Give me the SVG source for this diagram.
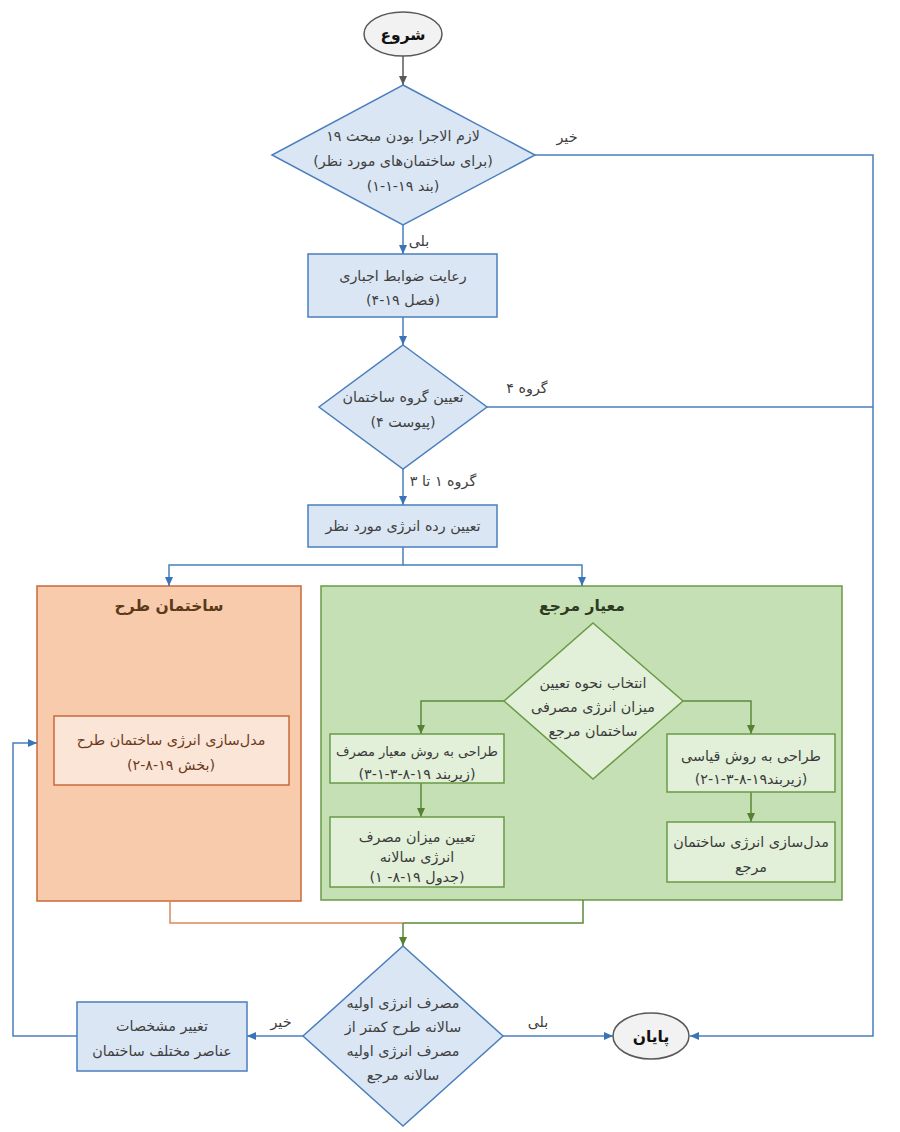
<svg xmlns="http://www.w3.org/2000/svg" width="900" height="1132" viewBox="0 0 900 1132">
<style>
text{font-family:"DejaVu Sans","Noto Sans",sans-serif;font-size:14.3px;text-anchor:middle;direction:rtl;fill:#404040}
.bold{font-weight:bold;fill:#111;font-size:15.5px}
.brown{fill:#6b3a1e}
.gt{fill:#3a3a3a}
.sm{font-size:13px}
.bl{fill:none;stroke:#4a7fbd;stroke-width:1.5}
.gn{fill:none;stroke:#5a8a3a;stroke-width:1.5}
.or{fill:none;stroke:#d98a5a;stroke-width:1.5}
.gy{fill:none;stroke:#595959;stroke-width:1.5}
.bnode{fill:#dae6f4;stroke:#4a7fbd;stroke-width:1.5}
.term{fill:#f2f2f2;stroke:#595959;stroke-width:1.5}
</style>
<defs>
<marker id="ab" markerWidth="10" markerHeight="10" refX="9" refY="5" orient="auto" markerUnits="userSpaceOnUse"><path d="M0,1 L9,5 L0,9 Z" fill="#3a74b8"/></marker>
<marker id="ag" markerWidth="10" markerHeight="10" refX="9" refY="5" orient="auto" markerUnits="userSpaceOnUse"><path d="M0,1 L9,5 L0,9 Z" fill="#548235"/></marker>
<marker id="ay" markerWidth="10" markerHeight="10" refX="9" refY="5" orient="auto" markerUnits="userSpaceOnUse"><path d="M0,1 L9,5 L0,9 Z" fill="#595959"/></marker>
</defs>

<g id="orangeGroup">
<rect x="37" y="586" width="264" height="315" fill="#f8cbad" stroke="#c9693a" stroke-width="1.5"/>
<text x="169" y="611" class="bold" style="fill:#5a3a1a">ساختمان طرح</text>
</g>
<g id="greenGroup">
<rect x="321" y="586" width="521" height="314" fill="#c5e0b4" stroke="#6a9a45" stroke-width="1.5"/>
<text x="582" y="611" class="bold" style="fill:#2f3a22">معیار مرجع</text>
</g>

<g id="connectors">
<path class="gy" d="M403,56 V85" marker-end="url(#ay)"/>
<path class="bl" d="M403,225 V254" marker-end="url(#ab)"/>
<path class="bl" d="M403,317 V345" marker-end="url(#ab)"/>
<path class="bl" d="M403,469 V505" marker-end="url(#ab)"/>
<path class="bl" d="M403,547 V565 H169 V586" marker-end="url(#ab)"/>
<path class="bl" d="M403,565 H582 V586" marker-end="url(#ab)"/>
<path class="bl" d="M535,155 H873 V1036 H690" marker-end="url(#ab)"/>
<path class="bl" d="M487,407 H873"/>
<path class="or" d="M170,901 V923 H403"/>
<path class="gn" d="M583,900 V923 H403"/>
<path class="gn" d="M403,923 V946" marker-end="url(#ag)"/>
<path class="gn" d="M504,701 H421 V734" marker-end="url(#ag)"/>
<path class="gn" d="M683,701 H751 V734" marker-end="url(#ag)"/>
<path class="gn" d="M421,783 V817" marker-end="url(#ag)"/>
<path class="gn" d="M751,792 V822" marker-end="url(#ag)"/>
<path class="bl" d="M303,1036 H247" marker-end="url(#ab)"/>
<path class="bl" d="M503,1036 H613" marker-end="url(#ab)"/>
<path class="bl" d="M77,1036 H13 V743 H37" marker-end="url(#ab)"/>
<text x="567" y="142">خیر</text>
<text x="419" y="246">بلی</text>
<text x="527" y="393">گروه ۴</text>
<text x="443" y="486">گروه ۱ تا ۳</text>
<text x="281" y="1027">خیر</text>
<text x="538" y="1027">بلی</text>
</g>

<g id="start">
<ellipse cx="403" cy="34" rx="39" ry="22" class="term"/>
<text x="403" y="40" class="bold">شروع</text>
</g>

<g id="d1">
<path d="M403,85 L535,155 L403,225 L272,155 Z" class="bnode"/>
<text x="403" y="141">لازم الاجرا بودن مبحث ۱۹</text>
<text x="403" y="166">(برای ساختمان‌های مورد نظر)</text>
<text x="403" y="191">(بند ۱۹-۱-۱)</text>
</g>

<g id="b1">
<rect x="308" y="254" width="189" height="63" class="bnode"/>
<text x="403" y="281">رعایت ضوابط اجباری</text>
<text x="403" y="305">(فصل ۱۹-۴)</text>
</g>

<g id="d2">
<path d="M403,345 L487,407 L403,469 L319,407 Z" class="bnode"/>
<text x="403" y="402">تعیین گروه ساختمان</text>
<text x="403" y="427">(پیوست ۴)</text>
</g>

<g id="b2">
<rect x="308" y="505" width="189" height="42" class="bnode"/>
<text x="403" y="531">تعیین رده انرژی مورد نظر</text>
</g>

<g id="designModel">
<rect x="54" y="716" width="235" height="69" fill="#fbe5d6" stroke="#c9693a" stroke-width="1.5"/>
<text x="171" y="745" class="brown">مدل‌سازی انرژی ساختمان طرح</text>
<text x="171" y="770" class="brown">(بخش ۱۹-۸-۲)</text>
</g>

<g id="gd">
<path d="M593,623 L683,701 L593,779 L504,701 Z" fill="#e2f0d9" stroke="#6a9a45" stroke-width="1.5"/>
<text x="593" y="688" class="gt">انتخاب نحوه تعیین</text>
<text x="593" y="712" class="gt">میزان انرژی مصرفی</text>
<text x="593" y="736" class="gt">ساختمان مرجع</text>
</g>

<g id="gl1">
<rect x="330" y="734" width="174" height="49" fill="#e2f0d9" stroke="#6a9a45" stroke-width="1.5"/>
<text x="417" y="756" class="gt sm">طراحی به روش معیار مصرف</text>
<text x="417" y="779" class="gt">(زیربند ۱۹-۸-۳-۱-۳)</text>
</g>
<g id="gl2">
<rect x="330" y="817" width="174" height="70" fill="#e2f0d9" stroke="#6a9a45" stroke-width="1.5"/>
<text x="417" y="842" class="gt">تعیین میزان مصرف</text>
<text x="417" y="862" class="gt">انرژی سالانه</text>
<text x="417" y="882" class="gt">(جدول ۱۹-۸- ۱)</text>
</g>
<g id="gr1">
<rect x="667" y="734" width="168" height="58" fill="#e2f0d9" stroke="#6a9a45" stroke-width="1.5"/>
<text x="751" y="761" class="gt">طراحی به روش قیاسی</text>
<text x="751" y="784" class="gt">(زیربند۱۹-۸-۳-۱-۲)</text>
</g>
<g id="gr2">
<rect x="667" y="822" width="168" height="60" fill="#e2f0d9" stroke="#6a9a45" stroke-width="1.5"/>
<text x="751" y="847" class="gt">مدل‌سازی انرژی ساختمان</text>
<text x="751" y="872" class="gt">مرجع</text>
</g>

<g id="d3">
<path d="M403,946 L503,1036 L403,1126 L303,1036 Z" class="bnode"/>
<text x="403" y="1008">مصرف انرژی اولیه</text>
<text x="403" y="1032">سالانه طرح کمتر از</text>
<text x="403" y="1056">مصرف انرژی اولیه</text>
<text x="403" y="1080">سالانه مرجع</text>
</g>

<g id="change">
<rect x="77" y="1002" width="170" height="69" class="bnode"/>
<text x="162" y="1031">تغییر مشخصات</text>
<text x="162" y="1056">عناصر مختلف ساختمان</text>
</g>

<g id="end">
<ellipse cx="651" cy="1036" rx="38" ry="23" class="term"/>
<text x="651" y="1042" class="bold">پایان</text>
</g>
</svg>
